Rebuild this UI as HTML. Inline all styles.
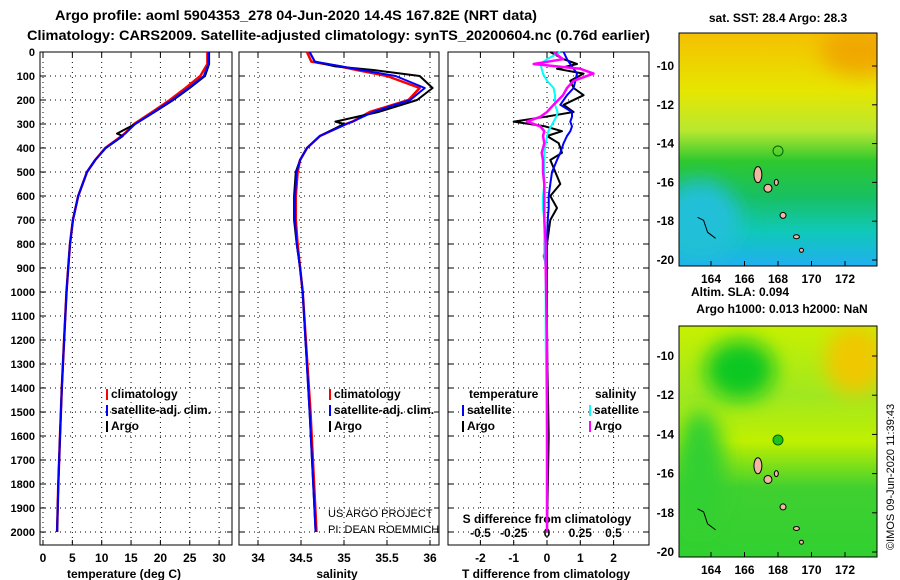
<!DOCTYPE html>
<html><head><meta charset="utf-8"><style>
body{margin:0;background:#fff;}
svg{display:block;font-family:"Liberation Sans",sans-serif;font-weight:bold;}
</style></head><body>
<svg id="chart" width="900" height="580" viewBox="0 0 900 580" xmlns="http://www.w3.org/2000/svg">
<defs>
<linearGradient id="g1" x1="0" y1="0" x2="0" y2="1">
<stop offset="0" stop-color="#f5c000"/><stop offset="0.25" stop-color="#e6e600"/><stop offset="0.42" stop-color="#b8e830"/><stop offset="0.55" stop-color="#2ec82e"/><stop offset="0.7" stop-color="#18c060"/><stop offset="0.85" stop-color="#10c8b8"/><stop offset="1" stop-color="#20b0f0"/>
</linearGradient>
<linearGradient id="g2" x1="0" y1="0" x2="0" y2="1">
<stop offset="0" stop-color="#c8f000"/><stop offset="0.3" stop-color="#a0e820"/><stop offset="0.5" stop-color="#c0f000"/><stop offset="0.7" stop-color="#40d030"/><stop offset="1" stop-color="#30d030"/>
</linearGradient>
<filter id="bl" x="-100%" y="-100%" width="300%" height="300%"><feGaussianBlur stdDeviation="10"/></filter>
<clipPath id="c1"><rect x="679" y="33" width="198" height="233"/></clipPath>
<clipPath id="c2"><rect x="679" y="326" width="198" height="231"/></clipPath>
</defs>
<text x="55" y="20" font-size="14" textLength="482" lengthAdjust="spacingAndGlyphs">Argo profile: aoml 5904353_278 04-Jun-2020 14.4S 167.82E (NRT data)</text>
<text x="27" y="40" font-size="14" textLength="623" lengthAdjust="spacingAndGlyphs">Climatology: CARS2009. Satellite-adjusted climatology: synTS_20200604.nc (0.76d earlier)</text>
<g id="plots"></g>
<g id="maps">
<text x="778" y="22" font-size="12" text-anchor="middle">sat. SST: 28.4 Argo: 28.3</text>
<g clip-path="url(#c1)">
<rect x="679" y="33" width="198" height="233" fill="url(#g1)"/>
<ellipse cx="860" cy="50" rx="40" ry="25" fill="#f0a800" filter="url(#bl)"/>
<ellipse cx="700" cy="220" rx="40" ry="40" fill="#20c0d8" filter="url(#bl)"/>
</g>
<rect x="679" y="33" width="198" height="233" fill="none" stroke="#000"/>
<text x="740" y="296" font-size="12" text-anchor="middle">Altim. SLA: 0.094</text>
<text x="782" y="313" font-size="12" text-anchor="middle">Argo h1000: 0.013 h2000: NaN</text>
<g clip-path="url(#c2)">
<rect x="679" y="326" width="198" height="231" fill="url(#g2)"/>
<ellipse cx="740" cy="370" rx="35" ry="30" fill="#10c820" filter="url(#bl)"/>
<ellipse cx="855" cy="360" rx="30" ry="35" fill="#f0c800" filter="url(#bl)"/>
<ellipse cx="700" cy="470" rx="25" ry="60" fill="#30d030" filter="url(#bl)"/>
</g>
<rect x="679" y="326" width="198" height="231" fill="none" stroke="#000"/>
<circle cx="778" cy="151" r="5" fill="none" stroke="#060"/>
<circle cx="778" cy="440" r="5" fill="#20c020" stroke="#060"/>
<text transform="translate(894,550) rotate(-90)" font-size="11" font-weight="normal">©IMOS 09-Jun-2020 11:39:43</text>
</g>
</svg>
<script>
// ---- data ----
const depths = [0,50,100,150,200,250,300,340,350,400,450,500,600,700,800,900,1000,1200,1400,1600,1800,2000];
const tempArgo = [28.3,28.3,27.6,25.0,22.2,19.0,15.7,12.6,13.6,10.7,8.9,7.5,6.0,5.1,4.6,4.3,4.0,3.6,3.2,2.9,2.6,2.4];
const tempClim = [28.0,28.0,26.8,24.3,21.6,18.6,15.5,13.9,13.4,10.6,8.9,7.5,6.0,5.1,4.6,4.3,4.0,3.6,3.2,2.9,2.6,2.4];
const tempSat  = [28.2,28.2,27.4,24.8,22.0,18.9,15.7,14.0,13.5,10.7,8.9,7.5,6.0,5.1,4.6,4.3,4.0,3.6,3.2,2.9,2.6,2.4];
const salDepths = [0,40,60,75,100,150,200,250,290,300,350,400,450,500,600,700,800,900,1000,1500,2000];
const salArgo = [34.6,34.66,34.9,35.34,35.88,36.03,35.85,35.4,34.9,35.0,34.72,34.57,34.49,34.44,34.42,34.42,34.45,34.49,34.52,34.6,34.67];
const salClim = [34.57,34.62,34.95,35.15,35.5,35.88,35.75,35.3,35.1,35.02,34.72,34.57,34.49,34.46,34.44,34.44,34.46,34.49,34.52,34.61,34.68];
const salSat  = [34.6,34.66,34.97,35.2,35.6,35.94,35.77,35.34,35.1,35.03,34.72,34.57,34.49,34.45,34.43,34.43,34.45,34.49,34.52,34.6,34.67];
const diffDepths = [0,30,50,70,90,120,150,180,220,250,270,290,310,330,350,380,420,450,500,550,600,650,700,800,850,900,1200,1600,2000];
const tdiffArgo = [0.1,0.5,0.9,0.3,1.1,0.7,0.8,1.1,0.5,0.8,-0.05,-1.0,-0.05,0.45,0.0,0.35,0.45,0.1,0.25,0.4,0.1,0.3,0.1,0.0,-0.1,0.0,0.0,0.05,0.0];
const tdiffSat  = [0.5,0.6,0.7,0.8,0.9,0.85,0.8,0.6,0.4,0.75,0.75,0.7,0.75,0.7,0.6,0.5,0.4,0.3,0.15,0.1,0.05,0.05,0.02,0.0,0.0,0.0,0.0,0.0,0.0];
const sdiffArgo = [0.05,0.12,-0.1,0.25,0.35,0.2,0.15,0.12,0.05,0.0,-0.05,-0.15,-0.05,-0.02,-0.03,-0.02,-0.04,-0.03,-0.03,-0.02,-0.02,-0.02,-0.02,-0.01,-0.01,-0.01,0.0,0.0,0.0];
const sdiffSat  = [0.1,0.0,-0.05,-0.04,-0.03,0.0,0.05,0.06,0.06,0.08,0.07,0.05,0.03,0.01,0.0,-0.01,-0.02,-0.02,-0.02,-0.02,-0.03,-0.03,-0.02,-0.02,-0.02,-0.01,-0.01,0.0,0.0];
const depthTicks = [0,100,200,300,400,500,600,700,800,900,1000,1100,1200,1300,1400,1500,1600,1700,1800,1900,2000];
const tempTicks = [0,5,10,15,20,25,30];
const salTicks = [34,34.5,35,35.5,36];
const tdiffTicks = [-2,-1,0,1,2];
const sdiffTicks = [-0.5,-0.25,0,0.25,0.5];

// ---- axes ----
const NS="http://www.w3.org/2000/svg";
const root=document.getElementById('plots');
const yD = d => 52 + d*0.24;
const xT = v => 43 + v*5.87;
const xS = v => 258 + (v-34)*86;
const xTD = v => 547 + v*33.3;
const xSD = v => 547 + v*133;
function mk(tag, at, parent){const e=document.createElementNS(NS,tag);for(const k in at)e.setAttribute(k,at[k]);(parent||root).appendChild(e);return e;}
function txt(x,y,s,size,anchor,parent){const t=mk('text',{x:x,y:y,'font-size':size,'text-anchor':anchor||'middle'},parent);t.textContent=s;return t;}

const panels=[{x0:40,x1:232,name:'temperature-panel'},{x0:239,x1:439,name:'salinity-panel'},{x0:448,x1:649,name:'difference-panel'}];
const PB=545;
panels.forEach((p,i)=>{
  const g=mk('g',{});
  
  
  depthTicks.forEach(d=>{
    if(d>0){const l=mk('line',{x1:p.x0,x2:p.x1,y1:yD(d),y2:yD(d),stroke:'#000','stroke-dasharray':'1,4'},g);
    
    }
    mk('line',{x1:p.x0,x2:p.x0+5,y1:yD(d),y2:yD(d),stroke:'#000'},g);
    mk('line',{x1:p.x1-5,x2:p.x1,y1:yD(d),y2:yD(d),stroke:'#000'},g);
  });
  const xs = i==0?tempTicks.map(xT):i==1?salTicks.map(xS):tdiffTicks.map(xTD);
  xs.forEach(x=>{mk('line',{x1:x,x2:x,y1:52,y2:PB,stroke:'#000','stroke-dasharray':'1,4'},g);
    mk('line',{x1:x,x2:x,y1:52,y2:57,stroke:'#000'},g);mk('line',{x1:x,x2:x,y1:PB-5,y2:PB,stroke:'#000'},g);});
  mk('rect',{x:p.x0,y:52,width:p.x1-p.x0,height:PB-52,fill:'none',stroke:'#000'},g);
});
depthTicks.forEach(d=>{const t=txt(35,yD(d)+4,String(d),11,'end');
  
  });
tempTicks.forEach(v=>txt(xT(v),562,String(v),12));
salTicks.forEach(v=>txt(xS(v),562,String(v),12));
tdiffTicks.forEach(v=>txt(xTD(v),562,String(v),12));
sdiffTicks.forEach(v=>txt(xSD(v),537,String(v),12));
let t;
t=txt(124,578,'temperature (deg C)',12);
t=txt(337,578,'salinity',12);
t=txt(546,578,'T difference from climatology',12);
t=txt(547,523,'S difference from climatology',12);

function line(ds, vs, fx, col, w, name){
  const pts=ds.map((d,k)=>fx(vs[k]).toFixed(1)+','+yD(d).toFixed(1)).join(' ');
  const pl=mk('polyline',{points:pts,fill:'none',stroke:col,'stroke-width':w,'stroke-linejoin':'round'});
  
  
}
line(depths,tempClim,xT,'#f00',2.5,'temp-climatology-line');
line(depths,tempArgo,xT,'#000',2,'temp-argo-line');
line(depths,tempSat,xT,'#00f',2,'temp-satellite-line');
line(salDepths,salClim,xS,'#f00',2.5,'sal-climatology-line');
line(salDepths,salArgo,xS,'#000',2,'sal-argo-line');
line(salDepths,salSat,xS,'#00f',2,'sal-satellite-line');
line(diffDepths,tdiffArgo,xTD,'#000',2,'tdiff-argo-line');
line(diffDepths,sdiffSat,xSD,'#0ff',2,'sdiff-satellite-line');
line(diffDepths,tdiffSat,xTD,'#00f',2,'tdiff-satellite-line');
line(diffDepths,sdiffArgo,xSD,'#f0f',2.5,'sdiff-argo-line');

function leg(x,y,col,label){
  const g=mk('g',{});
  
  
  mk('rect',{x:x,y:y-9,width:2,height:11,fill:col},g);
  txt(x+5,y,label,12,'start',g);
}
[[106,'#f00','climatology',398],[106,'#00f','satellite-adj. clim.',414],[106,'#000','Argo',430]].forEach(a=>leg(a[0],a[3],a[1],a[2]));
[[329,'#f00','climatology',398],[329,'#00f','satellite-adj. clim.',414],[329,'#000','Argo',430]].forEach(a=>leg(a[0],a[3],a[1],a[2]));
txt(469,398,'temperature',12,'start');
txt(595,398,'salinity',12,'start');
leg(462,414,'#00f','satellite');leg(462,430,'#000','Argo');
leg(589,414,'#0ff','satellite');leg(589,430,'#f0f','Argo');
t=txt(328,517,'US ARGO PROJECT',11,'start');t.setAttribute('font-weight','normal');
t=txt(328,533,'PI: DEAN ROEMMICH',11,'start');t.setAttribute('font-weight','normal');

// map axes
const mapsG=document.getElementById('maps');
const lonTicks=[164,166,168,170,172];
const latTicks=[-10,-12,-14,-16,-18,-20];
const xLon=v=>711+(v-164)*16.75;
[[33,266,66,260],[326,557,356,552]].forEach(m=>{
  const yLat=v=>m[2]+(-10-v)*(m[3]-m[2])/10;
  latTicks.forEach(v=>{mk('line',{x1:872,x2:877,y1:yLat(v),y2:yLat(v),stroke:'#000'},mapsG);
    txt(674,yLat(v)+4,String(v),12,'end',mapsG);});
  lonTicks.forEach(v=>{mk('line',{x1:xLon(v),x2:xLon(v),y1:m[1],y2:m[1]-5,stroke:'#000'},mapsG);
    txt(xLon(v),m[1]+17,String(v),12,'middle',mapsG);});
  [[166.8,-15.6,4,8],[167.4,-16.3,4,4],[168.3,-17.7,3,3],[169.1,-18.8,3,2],[169.4,-19.5,2,2],[167.9,-16.0,2,3]].forEach(s=>{
    mk('ellipse',{cx:xLon(s[0]),cy:yLat(s[1]),rx:s[2],ry:s[3],fill:'#f0b8a0',stroke:'#000','stroke-width':1},mapsG);});
  mk('path',{d:`M${xLon(163.2)},${yLat(-17.8)} l6,3 l4,12 l8,6`,fill:'none',stroke:'#000'},mapsG);
});
</script>
</body></html>
